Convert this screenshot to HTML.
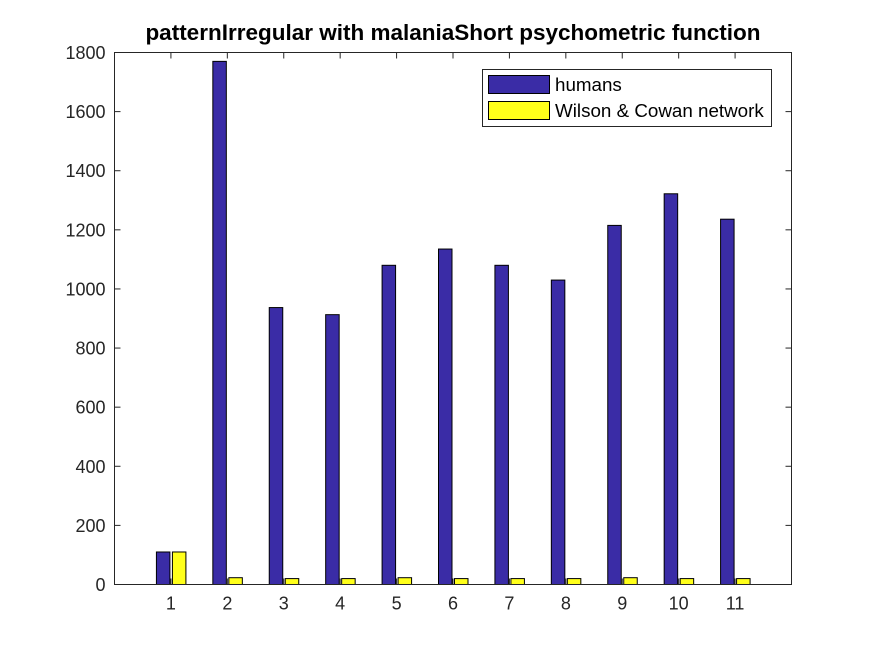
<!DOCTYPE html>
<html><head><meta charset="utf-8"><style>
body{margin:0;background:#fff;width:875px;height:656px;overflow:hidden}
text{font-family:"Liberation Sans",sans-serif}
</style></head><body>
<svg id="chart" width="875" height="656" xmlns="http://www.w3.org/2000/svg">
<rect x="0" y="0" width="875" height="656" fill="#fff"/>
<text x="453" y="40" text-anchor="middle" font-size="22.5" font-weight="bold" fill="#000">patternIrregular with malaniaShort psychometric function</text>
<g id="bars"></g>
<rect x="114.5" y="52.5" width="677" height="532" fill="none" stroke="#262626" stroke-width="1"/>
<g id="axes"></g>
<g>
<rect x="482.5" y="69.5" width="289" height="57" fill="#fff" stroke="#262626"/>
<rect x="488.5" y="75.5" width="61" height="18" fill="#3a2ca6" stroke="#000"/>
<text x="555" y="91" font-size="18.8" fill="#000">humans</text>
<rect x="488.5" y="101.5" width="61" height="18" fill="#ffff1a" stroke="#000"/>
<text x="555" y="117" font-size="18.8" fill="#000">Wilson &amp; Cowan network</text>
</g>
</svg>
<script>
const categories=[1,2,3,4,5,6,7,8,9,10,11];
const humans=[110,1770,937,913,1080,1135,1080,1030,1215,1322,1236];
const network=[110,23,20,20,23,20,20,20,23,20,20];
const yTicks=[0,200,400,600,800,1000,1200,1400,1600,1800];
const NS="http://www.w3.org/2000/svg";
const X0=114.5,X1=791.5,Y0=584.5,Y1=52.5;
function xs(v){return X0+(v/12)*(X1-X0);}
function ys(v){return Y0-(v/1800)*(Y0-Y1);}
const bars=document.getElementById('bars');
const axes=document.getElementById('axes');
function mk(tag,attrs,parent){const e=document.createElementNS(NS,tag);for(const k in attrs)e.setAttribute(k,attrs[k]);parent.appendChild(e);return e;}
const bw=13.5;
categories.forEach((c,i)=>{
  const cx=xs(c);
  let r=mk('rect',{x:cx-bw-1,y:ys(humans[i]),width:bw,height:Y0-ys(humans[i]),fill:'#3a2ca6',stroke:'#000','stroke-width':1},bars);
  
  
  let r2=mk('rect',{x:cx+1.5,y:ys(network[i]),width:bw,height:Y0-ys(network[i]),fill:'#ffff1a',stroke:'#000','stroke-width':1},bars);
  
  
  let t=mk('text',{x:cx,y:Y0+25,'text-anchor':'middle','font-size':18,fill:'#262626'},axes);
  t.textContent=c;
  
  
  mk('line',{x1:cx,x2:cx,y1:Y0,y2:Y0-6,stroke:'#262626'},axes);
  mk('line',{x1:cx,x2:cx,y1:Y1,y2:Y1+6,stroke:'#262626'},axes);
});
yTicks.forEach(v=>{
  const y=ys(v);
  mk('line',{x1:X0,x2:X0+6,y1:y,y2:y,stroke:'#262626'},axes);
  mk('line',{x1:X1,x2:X1-6,y1:y,y2:y,stroke:'#262626'},axes);
  let t=mk('text',{x:X0-9,y:y+6.5,'text-anchor':'end','font-size':18,fill:'#262626'},axes);
  t.textContent=v;
  
  
});
</script>
</body></html>
